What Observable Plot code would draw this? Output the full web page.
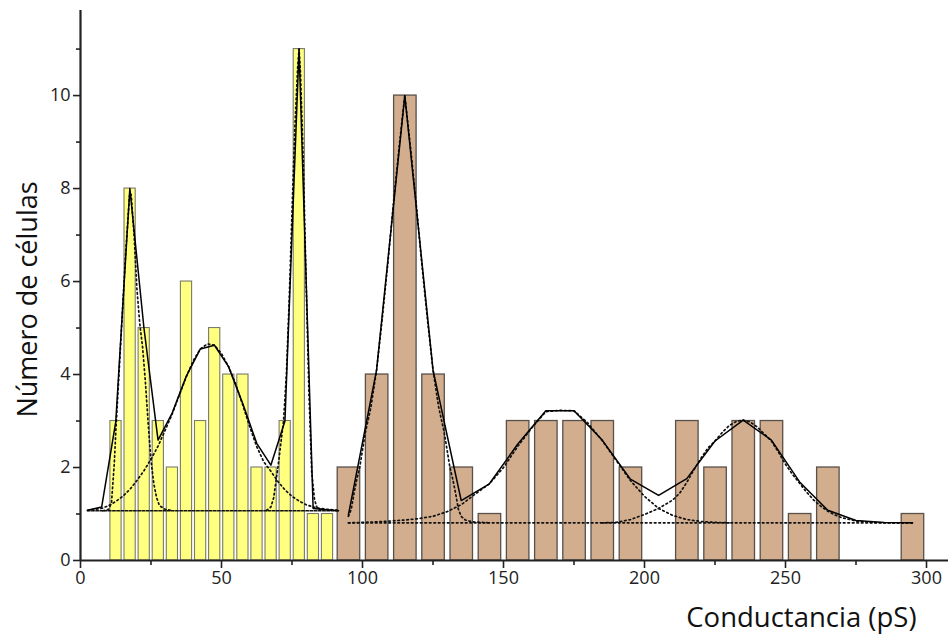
<!DOCTYPE html>
<html>
<head>
<meta charset="utf-8">
<script src="https://cdn.jsdelivr.net/npm/d3@7"></script>
<script src="https://cdn.jsdelivr.net/npm/@observablehq/plot@0.6"></script>
<style>
  html, body { margin: 0; padding: 0; background: #fff; }
  #chart svg { display: block; }
</style>
</head>
<body>
<div id="chart"></div>
<script>
// Histogram of channel conductance: two populations (5 pS and 10 pS bins)
const yellowStart = [10, 15, 20, 25, 30, 35, 40, 45, 50, 55, 60, 65, 70, 75, 80, 85];
const yellowCount = [3, 8, 5, 3, 2, 6, 3, 5, 4, 4, 2, 2, 3, 11, 1, 1];
const yellowWidth = 5;

const brownStart = [90, 100, 110, 120, 130, 140, 150, 160, 170, 180, 190, 200, 210, 220, 230, 240, 250, 260, 270, 280, 290];
const brownCount = [2, 4, 10, 4, 2, 1, 3, 3, 3, 3, 2, 0, 3, 2, 3, 3, 1, 2, 0, 0, 1];
const brownWidth = 10;

// Multi-peak fits: total curves (solid)
const fitLeftX = [2.5, 7.5, 12.5, 17.5, 22.5, 27.5, 32.5, 37.5, 42.5, 47.5, 52.5, 57.5, 62.5, 67.5, 72.5, 77.5, 82.5, 91.5];
const fitLeftY = [1.08, 1.15, 2.98, 8.0, 5.0, 2.59, 3.17, 3.96, 4.55, 4.63, 4.17, 3.38, 2.52, 2.05, 3.0, 11.0, 1.12, 1.07];
const fitRightX = [95, 105, 115, 125, 135, 145, 155, 165, 175, 185, 195, 205, 215, 225, 235, 245, 255, 265, 275, 285, 295];
const fitRightY = [0.98, 4.1, 10, 4.1, 1.29, 1.65, 2.5, 3.22, 3.22, 2.59, 1.75, 1.40, 1.76, 2.57, 3.02, 2.59, 1.69, 1.08, 0.86, 0.82, 0.81];

// Baselines of each fit (dotted)
const baseLeftX = [2.5, 91.5];
const baseLeftY = [1.07, 1.07];
const baseRightX = [95, 295];
const baseRightY = [0.81, 0.81];

// Individual peak components (dotted)
const c1X = [8, 10, 11, 12, 12.5, 13, 14, 15, 16, 17, 17.5, 18, 19, 20, 21, 22, 23, 24, 25, 26, 27, 28, 30, 32];
const c1Y = [1.07, 1.1, 1.25, 2.1, 2.75, 3.3, 4.4, 5.5, 6.6, 7.5, 7.95, 7.85, 7.0, 5.85, 5.1, 4.6, 3.85, 2.95, 2.15, 1.65, 1.35, 1.18, 1.1, 1.08];
const c2X = [2.5, 7.5, 10, 12.5, 15, 17.5, 20, 22.5, 25, 27.5, 30, 32.5, 35, 37.5, 40, 42.5, 45, 47.5, 50, 52.5, 55, 57.5, 60, 62.5, 65, 67.5, 70, 72.5, 75, 77.5, 80, 82.5, 85, 87.5, 91.5];
const c2Y = [1.08, 1.12, 1.18, 1.27, 1.38, 1.53, 1.72, 1.93, 2.18, 2.46, 2.8, 3.15, 3.55, 3.95, 4.3, 4.55, 4.66, 4.63, 4.45, 4.17, 3.8, 3.35, 2.88, 2.45, 2.12, 1.92, 1.7, 1.52, 1.38, 1.28, 1.2, 1.15, 1.12, 1.1, 1.08];
const c3X = [66, 67.5, 68.5, 70, 71, 72, 73, 74, 75, 76, 77, 77.5, 78, 79, 80, 81, 82, 83, 84, 86];
const c3Y = [1.08, 1.15, 1.35, 2.0, 2.5, 3.0, 4.0, 5.6, 7.5, 9.3, 10.6, 11.0, 10.5, 8.6, 6.0, 3.6, 1.9, 1.3, 1.12, 1.08];
const c4X = [95, 96, 97, 98, 99, 101, 103, 105, 107, 109, 111, 113, 115, 117, 119, 121, 123, 125, 127, 129, 131, 132, 133, 134, 135, 136.5, 139, 145];
const c4Y = [0.95, 1.1, 1.45, 1.75, 2.0, 2.75, 3.3, 4.1, 5.2, 6.4, 7.7, 8.9, 10, 8.9, 7.7, 6.4, 5.2, 4.1, 3.3, 2.75, 2.0, 1.75, 1.45, 1.1, 0.95, 0.87, 0.83, 0.81];
const c5X = [95, 105, 110, 115, 120, 125, 130, 135, 140, 145, 150, 155, 160, 165, 170, 175, 180, 185, 190, 195, 200, 205, 210, 215, 220, 225, 230];
const c5Y = [0.81, 0.83, 0.85, 0.87, 0.9, 0.95, 1.05, 1.2, 1.43, 1.65, 2.0, 2.45, 2.85, 3.2, 3.23, 3.22, 2.95, 2.58, 2.15, 1.72, 1.38, 1.12, 0.97, 0.88, 0.84, 0.82, 0.81];
const c6X = [185, 190, 195, 200, 205, 210, 212.5, 215, 217.5, 220, 222.5, 225, 227.5, 230, 232.5, 235, 237.5, 240, 242.5, 245, 247.5, 250, 252.5, 255, 257.5, 260, 262.5, 265, 267.5, 270, 275, 280, 285, 295];
const c6Y = [0.81, 0.82, 0.88, 0.99, 1.12, 1.3, 1.45, 1.68, 1.95, 2.2, 2.42, 2.57, 2.75, 2.9, 2.99, 3.02, 2.98, 2.87, 2.72, 2.57, 2.33, 2.07, 1.85, 1.66, 1.47, 1.3, 1.17, 1.06, 0.98, 0.92, 0.85, 0.82, 0.81, 0.81];

// Axis ticks and titles
const xMajor = [0, 50, 100, 150, 200, 250, 300];
const xMinor = [25, 75, 125, 175, 225, 275];
const yMajor = [0, 2, 4, 6, 8, 10];
const yMinor = [1, 3, 5, 7, 9, 11];
const xTitle = "Conductancia (pS)";
const yTitle = "Número de células";

const pts = (xs, ys) => xs.map((x, i) => ({x, y: ys[i]}));
const bins = (starts, counts, w) =>
  starts.map((s, i) => ({x1: s, x2: s + w, y: counts[i]})).filter(d => d.y > 0);

const yellowBars = bins(yellowStart, yellowCount, yellowWidth);
const brownBars = bins(brownStart, brownCount, brownWidth);

const dotted = {stroke: "#111", strokeWidth: 1.7, strokeDasharray: "1.6 2.9"};
const solid = {stroke: "#000", strokeWidth: 1.5};

const chart = Plot.plot({
  width: 948,
  height: 644,
  marginLeft: 80,
  marginRight: 0,
  marginTop: 10,
  marginBottom: 84,
  style: {fontFamily: "'Open Sans', sans-serif", fontSize: "18px", color: "#222", background: "#fff"},
  x: {domain: [0, 307.8], axis: null},
  y: {domain: [0, 11.83], axis: null},
  marks: [
    Plot.rectY(yellowBars, {x1: "x1", x2: "x2", y: "y", fill: "#ffff80", stroke: "#7a7a6a", strokeWidth: 1.1, insetLeft: 1.7, insetRight: 1.2}),
    Plot.rectY(brownBars, {x1: "x1", x2: "x2", y: "y", fill: "#d3ae8e", stroke: "#58504a", strokeWidth: 1.3, insetLeft: 3.4, insetRight: 2.3}),

    Plot.line(pts(baseLeftX, baseLeftY), {x: "x", y: "y", ...dotted, strokeDasharray: "2.4 1.8"}),
    Plot.line(pts(baseRightX, baseRightY), {x: "x", y: "y", ...dotted}),
    Plot.line(pts(c1X, c1Y), {x: "x", y: "y", ...dotted}),
    Plot.line(pts(c2X, c2Y), {x: "x", y: "y", ...dotted}),
    Plot.line(pts(c3X, c3Y), {x: "x", y: "y", ...dotted}),
    Plot.line(pts(c4X, c4Y), {x: "x", y: "y", ...dotted}),
    Plot.line(pts(c5X, c5Y), {x: "x", y: "y", ...dotted}),
    Plot.line(pts(c6X, c6Y), {x: "x", y: "y", ...dotted}),

    Plot.line(pts(fitLeftX, fitLeftY), {x: "x", y: "y", ...solid}),
    Plot.line(pts(fitRightX, fitRightY), {x: "x", y: "y", ...solid}),

    // axes
    Plot.ruleX([0], {y1: 0, y2: 11.83, stroke: "#222", strokeWidth: 2.2}),
    Plot.ruleY([0], {stroke: "#222", strokeWidth: 2.2}),
    Plot.axisY(yMajor, {label: null, tickSize: 7, tickPadding: 3, stroke: "#222", strokeWidth: 1.6, fill: "#222", fontSize: 18}),
    Plot.axisY(yMinor, {label: null, tickSize: 4, tickFormat: () => "", stroke: "#222", strokeWidth: 1.6}),
    Plot.axisX(xMajor, {label: null, tickSize: 8, tickPadding: 3, stroke: "#222", strokeWidth: 1.6, fill: "#222", fontSize: 18}),
    Plot.axisX(xMinor, {label: null, tickSize: 5, tickFormat: () => "", stroke: "#222", strokeWidth: 1.6}),

    Plot.text([xTitle], {frameAnchor: "bottom-right", textAnchor: "end", dx: -32, dy: 66, fontSize: 27.5, fill: "#111"}),
    Plot.text([yTitle], {frameAnchor: "left", textAnchor: "middle", rotate: -90, dx: -52, dy: 14, fontSize: 27, fill: "#111"})
  ]
});

document.getElementById("chart").appendChild(chart);
</script>
</body>
</html>
